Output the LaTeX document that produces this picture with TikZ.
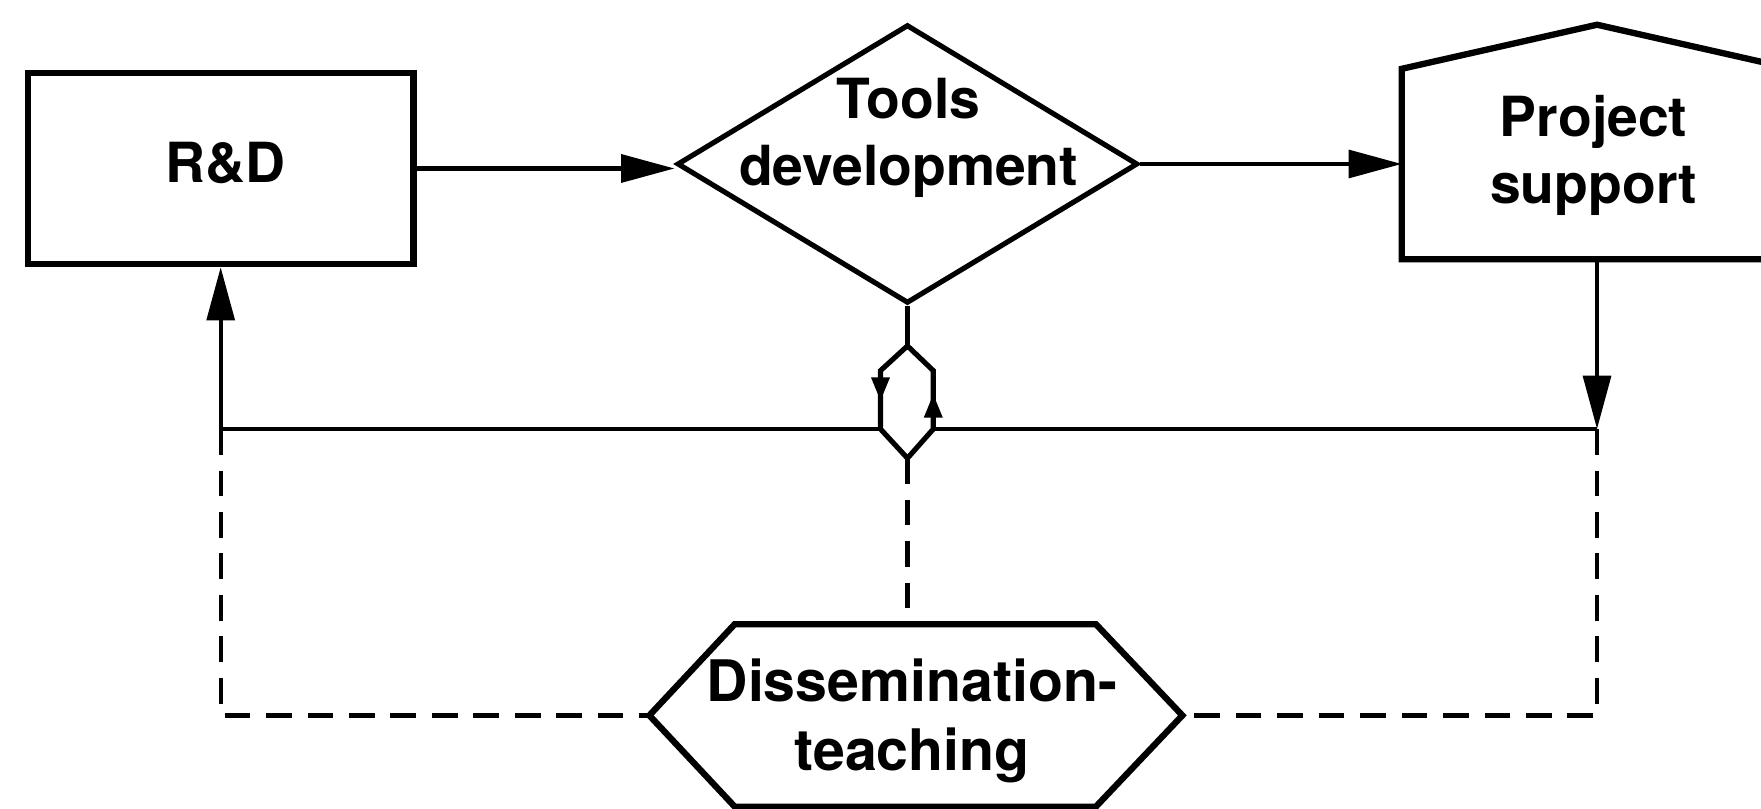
\documentclass[tikz,border=0pt]{standalone}
\usepackage{fontspec}
\setmainfont{TeX Gyre Heros}
\usetikzlibrary{arrows.meta,calc,shapes.geometric}
\begin{document}
\begin{tikzpicture}[x=0.01cm,y=-0.01cm,
  shapeline/.style={draw=black, line width=1.6pt, line join=miter},
  conn/.style={draw=black, line width=1.1pt},
  arr/.style={conn, -{Triangle[length=13.5pt,width=7pt]}},
  smallarr/.style={conn, -{Triangle[length=6pt,width=4.5pt]}},
  dashline/.style={conn, dash pattern=on 6.5pt off 4pt},
  lbl/.style={font=\bfseries\fontsize{14}{17}\selectfont, align=center, inner sep=0pt},
  box/.style={rectangle, inner sep=0pt}
]
\useasboundingbox (0,0) rectangle (1568,720);

% shapes
\node[box, shapeline, minimum width=3.43cm, minimum height=1.70cm] (rd) at (196.5,150) {};
\node[shapeline, line width=1.3pt, diamond, inner sep=0pt, minimum width=4.10cm, minimum height=2.48cm] (td) at (808,146) {};
\node[box, minimum width=3.46cm, minimum height=1.68cm] (ps) at (1422,146) {};
\coordinate (pspeak) at (1422,22);
\draw[shapeline] (ps.north west) -- (ps.south west) -- (ps.south east) -- (ps.north east) -- (pspeak) -- cycle;

\node[box, minimum width=3.20cm, minimum height=1.61cm] (dis) at (815,637) {};
\coordinate (disw) at ($(dis.west)+(-76,0)$);
\coordinate (dise) at ($(dis.east)+(77,0)$);
\draw[shapeline] (dis.north west) -- (dis.north east) -- (dise) -- (dis.south east) -- (dis.south west) -- (disw) -- cycle;

% small junction hexagon
\coordinate (ht) at (808,308);
\coordinate (hul) at (784,330);
\coordinate (hll) at (784,382);
\coordinate (hb) at (808,408);
\coordinate (hlr) at (831,382);
\coordinate (hur) at (831,330);
\coordinate (jl) at (rd.south |- hll);
\coordinate (jr) at (ps.south |- hlr);

% texts
\node[lbl] (rdt) at (201,145) {R\&D};
\node[lbl] (tdt) at (809,123) {Tools\\development};
\node[lbl] (pst) at (1419,138) {Project\\support};
\node[lbl, font=\bfseries\fontsize{14.5}{17.5}\selectfont] (dist) at (812,642) {Dissemination-\\teaching};

% connectors
\draw[arr] (rd.east) -- (rd.east -| td.west);
\draw[arr] (td.east) -- (td.east -| ps.west);
\draw[arr] (ps.south) -- (jr);
\draw[conn] (jr) -- (hlr);
\draw[arr] (hll) -- (jl) -- (rd.south);
\draw[conn] (td.south) -- (ht);
\draw[conn, line width=1.3pt, line join=miter] (ht) -- (hul) -- (hll) -- (hb) -- (hlr) -- (hur) -- cycle;
\draw[smallarr] (hul) -- ($(hul)!0.52!(hll)$);
\draw[smallarr] (hlr) -- ($(hlr)!0.6!(hur)$);
\draw[dashline] (hb) -- (hb |- dis.north);
\draw[dashline] (jl) -- (jl |- disw) -- (disw);
\draw[dashline] (jr) -- (jr |- dise) -- (dise);
\end{tikzpicture}
\end{document}
